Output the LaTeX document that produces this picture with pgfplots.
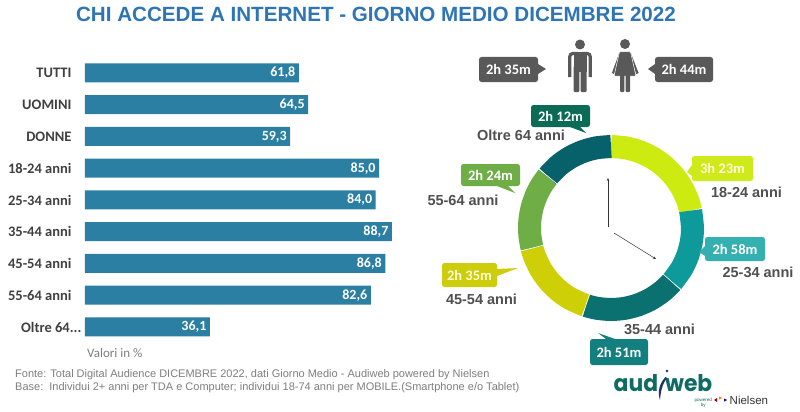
\documentclass[border=0pt]{standalone}
\usepackage{fontspec}
\usepackage{pgfplots}
\pgfplotsset{compat=1.18}
\usepgfplotslibrary{polar}
\usetikzlibrary{arrows.meta}
\setmainfont{Liberation Sans}
\newfontfamily\carlito{Carlito}
\newfontfamily\pop{Poppins}
\definecolor{titleblue}{HTML}{2E75B6}
\definecolor{barblue}{HTML}{2A7FA3}
\definecolor{lab}{HTML}{404040}
\definecolor{txt}{HTML}{505050}
\definecolor{foot}{HTML}{7F7F7F}
\definecolor{cA}{HTML}{CDEB10}
\definecolor{cB}{HTML}{0E9A9A}
\definecolor{cC}{HTML}{0B7070}
\definecolor{cD}{HTML}{CFCF08}
\definecolor{cE}{HTML}{6FAD46}
\definecolor{cF}{HTML}{07616B}
\definecolor{bA}{HTML}{CFEA1A}
\definecolor{bB}{HTML}{35B0B0}
\definecolor{bC}{HTML}{137F7F}
\definecolor{bD}{HTML}{CDCD0C}
\definecolor{bF}{HTML}{0B6B57}
\definecolor{gr}{HTML}{595959}
\definecolor{logo}{HTML}{0F6B63}
\definecolor{navy}{HTML}{1F2F6B}
\newcommand{\oltre}{Oltre 64...\hspace*{-10pt}}
\newcommand{\callout}[8]{% x1,y1,x2,y2,color,text,textcolor,pointer path
  \fill[#5,rounded corners=2.5pt] (#1,#2) rectangle (#3,#4);
  \fill[#5] #8;
  \node[text=#7,font=\fontsize{14.5}{16}\selectfont\bfseries\carlito] at ({(#1+#3)/2},{(#2+#4)/2}) {#6};
}
\begin{document}
\begin{tikzpicture}
\path[use as bounding box,fill=white] (0pt,-412pt) rectangle (800pt,0pt);
\begin{axis}[
  at={(85pt,-342.85pt)},anchor=south west,
  scale only axis,width=346pt,height=285.75pt,
  xbar,bar width=19pt,
  xmin=0,xmax=100,ymin=-0.5,ymax=8.5,y dir=reverse,
  axis line style={draw=none},
  xtick=\empty,
  ytick={0,1,2,3,4,5,6,7,8},
  yticklabels={TUTTI,UOMINI,DONNE,18-24 anni,25-34 anni,35-44 anni,45-54 anni,55-64 anni,\oltre},
  major tick length=0pt,
  yticklabel style={font=\fontsize{14.5}{16}\selectfont\bfseries\carlito,text=lab,anchor=east,xshift=-10pt},
  nodes near coords,
  point meta=x,
  /pgf/number format/.cd,fixed,fixed zerofill,precision=1,use comma,assume math mode=true,
  /pgfplots/.cd,
  nodes near coords style={anchor=east,text=white,font=\fontsize{14}{16}\selectfont\bfseries\carlito,xshift=0pt},
  clip=false,
]
\addplot[fill=barblue,draw=none] coordinates {
(61.8,0) (64.5,1) (59.3,2) (85.0,3) (84.0,4) (88.7,5) (86.8,6) (82.6,7) (36.1,8)};
\end{axis}
\begin{polaraxis}[
  at={(611pt,-228pt)},anchor=center,
  scale only axis,width=200pt,height=200pt,
  xmin=-270,xmax=90,ymin=0,ymax=100,
  hide axis,clip=false,
]
\addplot[cA,line width=23pt,smooth,no markers] coordinates {(90,81.5)(80,81.5)(70,81.5)(60,81.5)(50,81.5)(40,81.5)(30,81.5)(20,81.5)(12.3,81.5)};
\addplot[cB,line width=23pt,smooth,no markers] coordinates {(12.3,81.5)(0,81.5)(-10,81.5)(-20,81.5)(-30,81.5)(-41.5,81.5)};
\addplot[cC,line width=23pt,smooth,no markers] coordinates {(-41.5,81.5)(-50,81.5)(-60,81.5)(-70,81.5)(-80,81.5)(-90,81.5)(-100,81.5)(-108,81.5)};
\addplot[cD,line width=23pt,smooth,no markers] coordinates {(-108,81.5)(-120,81.5)(-130,81.5)(-140,81.5)(-150,81.5)(-160,81.5)(-165.7,81.5)};
\addplot[cE,line width=23pt,smooth,no markers] coordinates {(-165.7,81.5)(-175,81.5)(-185,81.5)(-195,81.5)(-205,81.5)(-212,81.5)(-219.3,81.5)};
\addplot[cF,line width=23pt,smooth,no markers] coordinates {(-219.3,81.5)(-230,81.5)(-240,81.5)(-250,81.5)(-260,81.5)(-270,81.5)};
\addplot[white,line width=0.6pt,no markers] coordinates {(-41.5,69)(-41.5,94)};
\addplot[white,line width=0.6pt,no markers] coordinates {(-108,69)(-108,94)};
\addplot[white,line width=0.6pt,no markers] coordinates {(-165.7,69)(-165.7,94)};
\addplot[white,line width=0.6pt,no markers] coordinates {(-219.3,69)(-219.3,94)};
\end{polaraxis}
\begin{scope}[x=1pt,y=-1pt]
% title
\node[text=titleblue,font=\fontsize{20.6}{24}\selectfont\bfseries] at (376,14) {CHI ACCEDE A INTERNET - GIORNO MEDIO DICEMBRE 2022};
% footer
\node[anchor=west,text=foot,inner sep=0pt,font=\fontsize{13}{15}\selectfont\carlito] at (87,352.7) {Valori in \%};
\node[anchor=west,text=foot,font=\fontsize{11}{13}\selectfont,inner sep=0pt] at (15,374.5) {Fonte: Total Digital Audience DICEMBRE 2022, dati Giorno Medio - Audiweb powered by Nielsen};
\node[anchor=west,text=foot,font=\fontsize{11}{13}\selectfont,inner sep=0pt] at (15,388) {Base:\ \ Individui 2+ anni per TDA e Computer; individui 18-74 anni per MOBILE.(Smartphone e/o Tablet)};
% clock hands
\draw[black!80,line width=0.5pt,-{Stealth[length=3pt,width=2.5pt]}] (608,227) -- (608,178);
\draw[black!80,line width=0.5pt,-{Stealth[length=3pt,width=2.5pt]}] (614,233) -- (656,259);
% man
\fill[gr] (580,44.5) circle (5);
\draw[gr,line width=3.2pt,rounded corners=3pt] (578,53.5) -- (569.8,53.5) -- (569.8,77);
\draw[gr,line width=3.2pt,rounded corners=3pt] (582,53.5) -- (590.2,53.5) -- (590.2,77);
\fill[gr] (573.5,52) rectangle (586.5,72);
\fill[gr,rounded corners=1pt] (573.5,66) rectangle (579.4,92);
\fill[gr,rounded corners=1pt] (580.6,66) rectangle (586.5,92);
% woman
\fill[gr] (625,44) circle (5);
\draw[gr,line width=2.4pt] (620.5,53) -- (613,73.5);
\draw[gr,line width=2.4pt] (629.5,53) -- (637.5,73.5);
\fill[gr,draw=white,line width=0.5pt,rounded corners=1pt] (619.5,51.7) -- (630.5,51.7) -- (636,76) -- (614,76) -- cycle;
\fill[gr,rounded corners=1pt] (620,75) rectangle (624.4,92);
\fill[gr,rounded corners=1pt] (625.6,75) rectangle (630,92);
% callouts
\callout{479}{57}{538}{82}{gr}{2h 35m}{white}{(538,64)--(546,69)--(538,74)--cycle}
\callout{655}{57}{713}{82}{gr}{2h 44m}{white}{(655,64)--(648,69)--(655,74)--cycle}
\callout{531}{105}{590}{127}{bF}{2h 12m}{white}{(570,127)--(586,133)--(580,127)--cycle}
\callout{692}{156}{753}{181}{bA}{3h 23m}{white!85!yellow}{(692,165)--(687,172)--(692,176)--cycle}
\callout{461}{164}{520}{186}{cE}{2h 24m}{white}{(497,186)--(515,193)--(508,186)--cycle}
\callout{705}{237}{765}{261}{bB}{2h 58m}{white}{(705,246)--(699,252)--(705,256)--cycle}
\callout{442}{263}{497}{287}{bD}{2h 35m}{white!85!yellow}{(497,269)--(518,268)--(497,276)--cycle}
\callout{590}{339}{648}{365}{bC}{2h 51m}{white}{(606,339)--(598,333)--(615,339)--cycle}
% group labels
\tikzset{grp/.style={text=txt,font=\fontsize{14.5}{16}\selectfont\bfseries,inner sep=0pt}}
\node[grp] at (521,135) {Oltre 64 anni};
\node[grp] at (746.5,192) {18-24 anni};
\node[grp] at (463,200) {55-64 anni};
\node[grp] at (758,272) {25-34 anni};
\node[grp] at (481.5,299) {45-54 anni};
\node[grp] at (659.5,329) {35-44 anni};
% logo
\node[anchor=base west,inner sep=0pt,text=logo,font=\fontsize{23}{25}\selectfont\bfseries\pop] at (613.5,391) {\scalebox{0.95}[1]{aud}};
\node[anchor=base east,inner sep=0pt,text=logo,font=\fontsize{23}{25}\selectfont\bfseries\pop] at (712.5,391) {\scalebox{0.95}[1]{web}};
\fill[navy] (667,371) circle (1.3);
\fill[navy] (665.5,377) .. controls (660,383) and (657,391) .. (660,400) .. controls (660.5,393) and (662,384) .. (667,378) -- cycle;
\node[anchor=east,text=logo,inner sep=0pt,align=center,font=\fontsize{4.5}{4.5}\selectfont] at (712,403) {powered\\by};
\fill[red!70!black] (714,400) -- (717,398) -- (717,402) -- cycle;
\fill[orange] (719,396.5) -- (722,398) -- (719,399.5) -- cycle;
\fill[blue!70!black] (724,398.5) -- (727,400) -- (724,401.5) -- cycle;
\node[anchor=west,text=black!80,inner sep=0pt,font=\fontsize{11.5}{13}\selectfont] at (729.5,400) {Nielsen};
\end{scope}
\end{tikzpicture}
\end{document}
